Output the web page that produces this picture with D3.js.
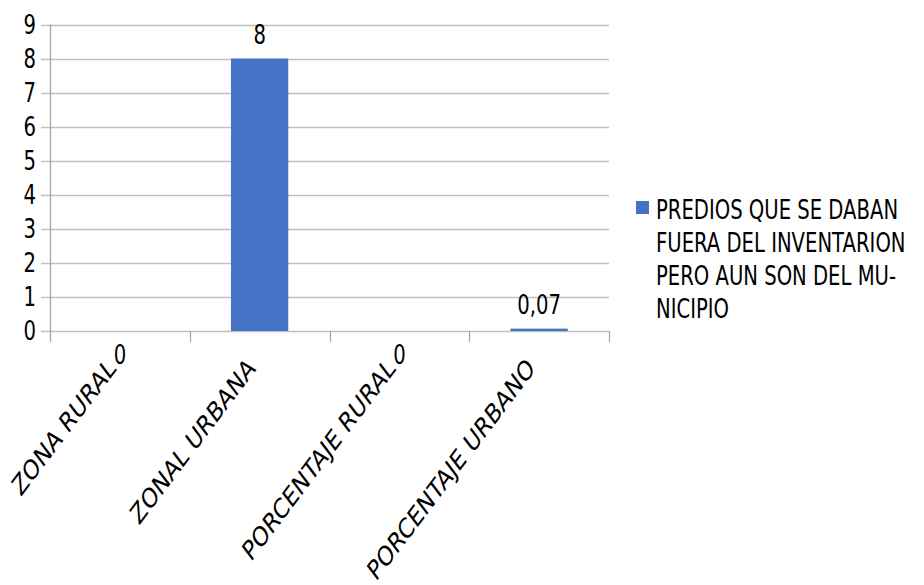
<!DOCTYPE html>
<html>
<head>
<meta charset="utf-8">
<script src="https://cdn.jsdelivr.net/npm/d3@7"></script>
<style>
  html, body { margin: 0; padding: 0; background: #ffffff; }
  svg { display: block; }
  text { font-family: "DejaVu Sans", sans-serif; fill: #000; }
</style>
</head>
<body>
<svg id="chart" width="924" height="585"></svg>
<script>
// Categories and values of the single series
const categories = ["ZONA RURAL", "ZONAL URBANA", "PORCENTAJE RURAL", "PORCENTAJE URBANO"];
const values = [0, 8, 0, 0.07];
const valueLabels = ["0", "8", "0", "0,07"];
const seriesName = "PREDIOS QUE SE DABAN FUERA DEL INVENTARION PERO AUN SON DEL MU-NICIPIO";
const legendLines = ["PREDIOS QUE SE DABAN", "FUERA DEL INVENTARION", "PERO AUN SON DEL MU-", "NICIPIO"];
const yTicks = [0, 1, 2, 3, 4, 5, 6, 7, 8, 9];

const barColor = "#4472c4";
const gridColor = "#bfbfbf";
const axisColor = "#a6a6a6";
const fontSize = 26;
const catFontSize = 27.5;
// the drawing is narrower than it is tall: text is squeezed horizontally
const sx = 0.755;

const svg = d3.select("#chart");
const plot = { left: 50, right: 609, top: 24.5, bottom: 331 };

const x = d3.scaleBand()
  .domain(categories)
  .range([plot.left, plot.right])
  .paddingInner(0.59)
  .paddingOuter(0.295);

const xEdges = d3.scaleLinear()
  .domain([0, categories.length])
  .range([plot.left, plot.right]);

const y = d3.scaleLinear()
  .domain([0, 9])
  .range([plot.bottom, plot.top]);

// Horizontal gridlines with short ticks on the left
svg.append("g")
  .selectAll("line")
  .data(yTicks)
  .join("line")
  .attr("x1", plot.left - 9)
  .attr("x2", plot.right)
  .attr("y1", d => Math.round(y(d)) + 0.5)
  .attr("y2", d => Math.round(y(d)) + 0.5)
  .attr("stroke", gridColor)
  .attr("stroke-width", 1.3);

// Y tick labels
svg.append("g")
  .selectAll("text")
  .data(yTicks)
  .join("text")
  .attr("transform", d => `translate(${plot.left - 14},${y(d)}) scale(${sx},1)`)
  .attr("dy", "0.36em")
  .attr("text-anchor", "end")
  .attr("font-size", fontSize)
  .text(d => d);

// Vertical axis line
svg.append("line")
  .attr("x1", plot.left + 0.5).attr("x2", plot.left + 0.5)
  .attr("y1", plot.top).attr("y2", plot.bottom + 11)
  .attr("stroke", axisColor).attr("stroke-width", 1.3);

// Category boundary ticks below the axis
svg.append("g")
  .selectAll("line")
  .data(d3.range(1, categories.length + 1))
  .join("line")
  .attr("x1", d => Math.round(xEdges(d)) + 0.5)
  .attr("x2", d => Math.round(xEdges(d)) + 0.5)
  .attr("y1", plot.bottom)
  .attr("y2", plot.bottom + 11)
  .attr("stroke", axisColor)
  .attr("stroke-width", 1.3);

// Bars
svg.append("g")
  .selectAll("rect")
  .data(values)
  .join("rect")
  .attr("x", (d, i) => x(categories[i]))
  .attr("width", x.bandwidth())
  .attr("y", d => y(d))
  .attr("height", d => y(0) - y(d))
  .attr("fill", barColor);

// Rotated category labels
svg.append("g")
  .selectAll("text")
  .data(categories)
  .join("text")
  .attr("transform", d => `translate(${x(d) + x.bandwidth() / 2 - 3},${plot.bottom + 39}) scale(${sx},1) rotate(-45)`)
  .attr("text-anchor", "end")
  .attr("font-size", catFontSize)
  .text(d => d);

// Value labels; zero values sit just under the axis
svg.append("g")
  .selectAll("text")
  .data(values)
  .join("text")
  .attr("transform", (d, i) => {
    const cx = x(categories[i]) + x.bandwidth() / 2;
    const ty = d === 0 ? y(0) + 33 : y(d) - 14.5;
    return `translate(${cx},${ty}) scale(${sx},1)`;
  })
  .attr("text-anchor", "middle")
  .attr("font-size", fontSize)
  .text((d, i) => valueLabels[i]);

// Legend
const legend = svg.append("g").attr("aria-label", seriesName);
legend.append("rect")
  .attr("x", 636).attr("y", 201)
  .attr("width", 13).attr("height", 13)
  .attr("fill", barColor);
legend.selectAll("text")
  .data(legendLines)
  .join("text")
  .attr("transform", (d, i) => `translate(656,${219 + i * 33}) scale(${sx},1)`)
  .attr("font-size", fontSize)
  .text(d => d);
</script>
</body>
</html>
